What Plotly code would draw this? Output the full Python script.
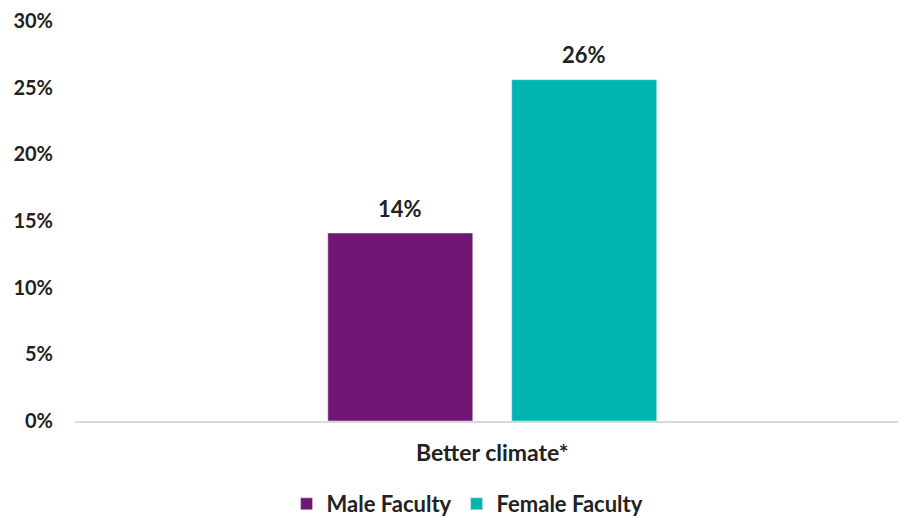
import plotly.graph_objects as go

categories = ["Better climate*"]
male_values = [14.1]
female_values = [25.6]
male_labels = ["14%"]
female_labels = ["26%"]
tick_vals = [0, 5, 10, 15, 20, 25, 30]
tick_text = ["0%", "5%", "10%", "15%", "20%", "25%", "30%"]

font_family = "Lato, 'Open Sans', sans-serif"
txt_color = "#222222"

fig = go.Figure()
fig.add_trace(go.Bar(
    name="Male Faculty", x=categories, y=male_values,
    marker_color="#701675", offsetgroup="m",
))
fig.add_trace(go.Bar(
    name="Female Faculty", x=categories, y=female_values,
    marker_color="#00B5B0", offsetgroup="f",
))

# data labels as annotations above bars (positions taken from the data via axes)
for vals, labels, side in [(male_values, male_labels, -1), (female_values, female_labels, 1)]:
    for cat, v, lab in zip(categories, vals, labels):
        fig.add_annotation(
            x=cat, y=v, text=lab, showarrow=False,
            xshift=side * 92, yshift=25, yanchor="middle",
            font=dict(size=22, color=txt_color, family=font_family, weight="bold"),
        )

fig.update_layout(
    width=899, height=518,
    margin=dict(l=75, r=1, t=21, b=97, autoexpand=False),
    paper_bgcolor="white", plot_bgcolor="white",
    barmode="group", bargap=0.553, bargroupgap=0.212,
    font=dict(family=font_family, size=20, color=txt_color),
    showlegend=True,
    legend=dict(orientation="h", x=0.477, xanchor="center",
                yref="container", y=0.027, yanchor="middle",
                font=dict(size=22, color=txt_color, family=font_family, weight="bold"),
                traceorder="normal", itemwidth=30),
    xaxis=dict(
        range=[-0.507, 0.493],
        showline=True, linecolor="#d9d9d9", linewidth=1.5,
        ticks="", tickfont=dict(size=23, color=txt_color, family=font_family, weight="bold"),
        showgrid=False, automargin=False, ticklabelstandoff=11,
    ),
    yaxis=dict(
        range=[0, 30], tickvals=tick_vals, ticktext=tick_text,
        showgrid=False, zeroline=False, showline=False,
        tickfont=dict(size=20, color=txt_color, family=font_family, weight="bold"),
        ticklabelstandoff=21, automargin=False,
    ),
)

fig.write_html("out.html", config={"displayModeBar": False},
               post_script="document.body.style.margin='0';document.body.style.overflow='hidden';")
